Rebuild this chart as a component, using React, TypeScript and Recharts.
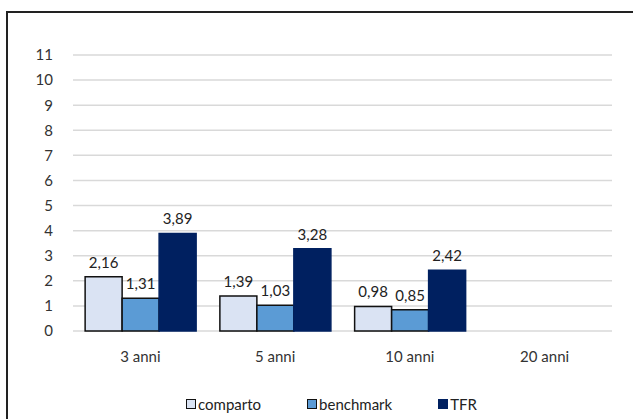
import React from 'react';
import { BarChart, Bar, XAxis, YAxis, CartesianGrid, Legend, LabelList } from 'recharts';

const periods = ['3 anni', '5 anni', '10 anni', '20 anni'];
const comparto = [2.16, 1.39, 0.98, null];
const benchmark = [1.31, 1.03, 0.85, null];
const tfr = [3.89, 3.28, 2.42, null];
const yTicks = [0, 1, 2, 3, 4, 5, 6, 7, 8, 9, 10, 11];

const data = periods.map((p, i) => ({
    name: p,
    comparto: comparto[i],
    benchmark: benchmark[i],
    TFR: tfr[i],
}));

const series = [
    { key: 'comparto', fill: '#dae3f3', stroke: '#111' },
    { key: 'benchmark', fill: '#5b9bd5', stroke: '#111' },
    { key: 'TFR', fill: '#002060', stroke: '#002060' },
];

const FONT = 'Lato, "Open Sans", sans-serif';

const fmt = (v: any) => (v == null ? '' : Number(v).toFixed(2).replace('.', ','));

const LegendContent = () => (
    <div
        style={{
            display: 'flex',
            justifyContent: 'center',
            gap: 46,
            paddingLeft: 30,
            fontFamily: FONT,
            fontSize: 15,
            color: '#222',
        }}
    >
        {series.map((s) => (
            <div key={s.key} style={{ display: 'flex', alignItems: 'center' }}>
                <span
                    style={{
                        display: 'inline-block',
                        width: 8,
                        height: 8,
                        background: s.fill,
                        border: `1.5px solid ${s.stroke}`,
                        marginRight: 2,
                    }}
                />
                <span>{s.key}</span>
            </div>
        ))}
    </div>
);

const App: React.FC = () => {
    return (
        <div style={{ position: 'fixed', left: 0, top: 0, width: 633, height: 419, background: '#fff', overflow: 'hidden' }}>
            <div
                style={{
                    position: 'absolute',
                    left: 6,
                    top: 11,
                    width: 660,
                    height: 440,
                    border: '2px solid #222',
                    pointerEvents: 'none',
                }}
            />
            <BarChart
                width={633}
                height={419}
                data={data}
                margin={{ top: 55, right: 21, bottom: 30, left: 0 }}
                barGap={0}
                barCategoryGap="9%"
                style={{ fontFamily: FONT }}
            >
                <CartesianGrid vertical={false} stroke="#d9d9d9" strokeWidth={1.5} />
                <XAxis
                    dataKey="name"
                    axisLine={false}
                    tickLine={false}
                    tickMargin={14}
                    height={40}
                    tick={{ fill: '#333', fontSize: 15 }}
                />
                <YAxis
                    domain={[0, 11]}
                    ticks={yTicks}
                    interval={0}
                    width={73}
                    axisLine={false}
                    tickLine={false}
                    tickMargin={14}
                    tick={{ fill: '#333', fontSize: 15 }}
                />
                <Legend
                    verticalAlign="bottom"
                    content={<LegendContent />}
                    wrapperStyle={{ top: 395, left: 0, width: 633 }}
                />
                {series.map((s) => (
                    <Bar key={s.key} dataKey={s.key} fill={s.fill} stroke={s.stroke} strokeWidth={1.5} isAnimationActive={false}>
                        <LabelList dataKey={s.key} position="top" offset={9} formatter={fmt} fill="#222" fontSize={15} />
                    </Bar>
                ))}
            </BarChart>
        </div>
    );
};

export default App;
